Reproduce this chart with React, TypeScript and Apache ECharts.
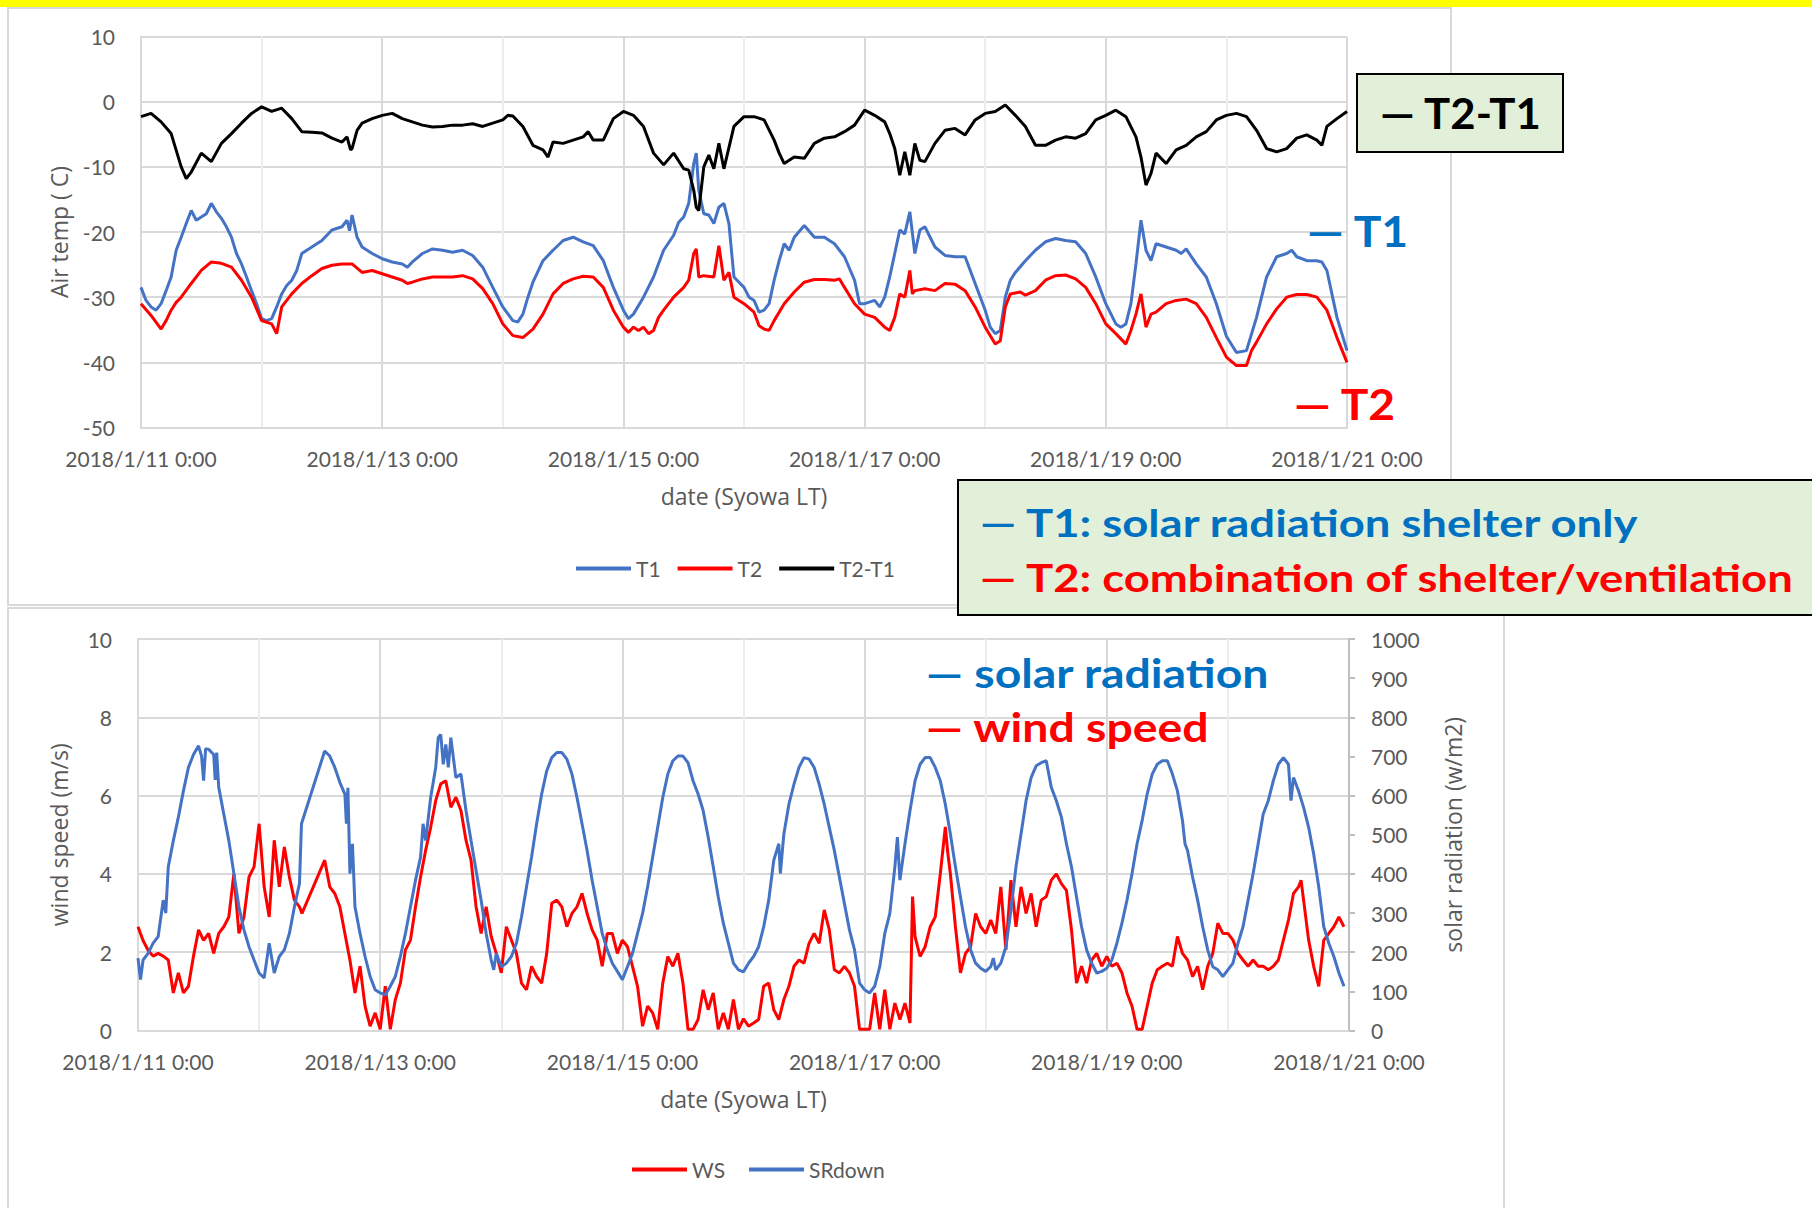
import { useEffect, useRef } from "react";
import * as echarts from "echarts";

// hours since 2018/1/11 0:00 (Syowa LT), value
const t1Data: [number, number][] = [[0,-28.5],[1,-30.5],[2,-31.5],[3,-32],[4,-31],[5,-29],[6,-26.9],[7,-22.8],[8,-20.8],[9,-18.7],[10,-16.7],[11,-18.2],[12,-17.7],[13,-17.2],[14,-15.6],[15,-16.9],[16,-17.9],[17,-19.2],[18,-20.8],[19,-23.3],[20,-24.9],[21,-26.9],[22,-29],[23,-31],[24,-33.3],[25,-33.6],[26,-33.3],[27,-31.5],[28,-29.5],[29,-28.2],[30,-27.4],[31,-25.9],[32,-23.3],[34,-22.3],[36,-21.3],[38,-19.7],[40,-19.2],[41,-18.2],[41.5,-19.8],[42,-17.4],[43,-20.8],[44,-22.3],[46,-23.3],[48,-24.1],[50,-24.6],[52,-24.9],[53,-25.4],[54,-24.6],[56,-23.3],[58,-22.6],[60,-22.8],[62,-23.1],[64,-22.8],[66,-23.6],[68,-25.4],[70,-28.5],[72,-31.5],[74,-33.6],[75,-33.8],[76,-32.6],[77,-30],[78,-27.7],[80,-24.4],[82,-22.8],[84,-21.3],[86,-20.8],[88,-21.5],[90,-22.1],[92,-24.4],[94,-28.5],[96,-32],[97,-33.3],[98,-32.6],[100,-30],[102,-26.9],[104,-22.8],[106,-20.5],[107,-18.5],[108,-17.7],[109,-15.6],[110,-9.5],[110.5,-7.9],[111,-13.6],[112,-17.2],[113,-17.4],[114,-18.7],[115,-16.2],[116,-15.6],[117,-18.7],[118,-26.9],[119,-27.7],[120,-28.5],[121,-30],[122,-30.5],[123,-32.3],[124,-32],[125,-31],[126,-27.4],[127,-24.4],[128,-21.8],[129,-22.8],[130,-20.8],[132,-19],[134,-20.8],[136,-20.8],[138,-21.8],[140,-23.8],[142,-27.4],[143,-31],[144,-31],[146,-30.5],[147,-31.5],[148,-30],[149,-26.9],[150,-23.3],[151,-19.7],[152,-20.3],[153,-16.9],[154,-23.3],[155,-19.7],[156,-19.2],[158,-22.3],[160,-23.6],[162,-23.8],[164,-23.8],[166,-27.9],[168,-32],[169,-34.6],[170,-35.6],[171,-35.1],[172,-30],[173,-27.4],[174,-26.2],[176,-24.4],[178,-22.8],[180,-21.5],[182,-21],[184,-21.3],[186,-21.5],[188,-23.3],[190,-26.9],[192,-31],[194,-34.1],[195,-34.6],[196,-34.1],[197,-31],[198,-24.9],[199,-18.2],[200,-22.8],[201,-24.4],[202,-21.8],[204,-22.3],[206,-22.8],[207,-23.3],[208,-22.6],[210,-24.9],[212,-26.9],[214,-31],[216,-36],[218,-38.5],[220,-38.2],[222,-33.1],[224,-26.9],[226,-23.8],[228,-23.3],[229,-22.8],[230,-23.8],[232,-24.4],[234,-24.4],[235,-24.6],[236,-25.9],[238,-33.1],[240,-38.2]];

const t2Data: [number, number][] = [[0,-31],[2,-32.8],[4,-34.9],[5,-33.6],[6,-32],[7,-30.8],[8,-30],[10,-27.9],[12,-25.9],[14,-24.6],[16,-24.8],[18,-25.4],[20,-27.4],[22,-30],[24,-33.6],[26,-34.1],[27,-35.6],[28,-31.5],[30,-29.5],[32,-27.9],[34,-26.7],[36,-25.6],[38,-25.1],[40,-24.9],[42,-24.9],[44,-26.2],[46,-25.9],[48,-26.4],[50,-26.9],[52,-27.4],[53,-27.9],[54,-27.7],[56,-27.2],[58,-26.9],[60,-26.9],[62,-26.9],[64,-26.7],[66,-27.2],[68,-28.7],[70,-31],[72,-34.1],[74,-35.9],[76,-36.2],[78,-34.9],[80,-32.6],[82,-29.5],[84,-27.9],[86,-27.2],[88,-26.8],[90,-26.9],[92,-28.5],[94,-32],[96,-34.6],[97,-35.4],[98,-34.6],[99,-35.1],[100,-34.6],[101,-35.6],[102,-35.1],[103,-33.1],[104,-32],[106,-30],[108,-28.5],[109,-27.4],[110,-23.3],[110.5,-22.6],[111,-26.9],[112,-26.7],[114,-26.9],[115,-22.1],[116,-27.4],[117,-26.2],[118,-30],[120,-31],[122,-32.3],[123,-34.4],[124,-34.9],[125,-35.1],[126,-33.6],[128,-31],[130,-29.2],[132,-27.7],[134,-27.3],[136,-27.3],[138,-27.4],[139,-27.2],[140,-28.5],[142,-31],[144,-32.6],[146,-33.1],[148,-34.6],[149,-35.1],[150,-33.1],[151,-29.5],[152,-30],[153,-25.9],[153.5,-29.5],[154,-29],[156,-28.7],[158,-29],[160,-27.9],[162,-28],[164,-29],[166,-31.5],[168,-34.6],[170,-37.2],[171,-36.7],[172,-31.5],[173,-29.5],[175,-29.2],[176,-29.7],[178,-29],[180,-27.4],[182,-26.7],[184,-26.6],[186,-27.2],[188,-28.5],[190,-31],[192,-34.1],[194,-35.6],[196,-37.2],[197,-35.1],[198,-32.6],[199,-29.5],[200,-34.6],[201,-32.6],[202,-32.3],[204,-31],[206,-30.5],[208,-30.3],[210,-31],[212,-33.1],[214,-36.2],[216,-39.2],[218,-40.5],[220,-40.5],[221,-38.2],[222,-36.9],[224,-34.1],[226,-31.8],[228,-30],[230,-29.6],[232,-29.6],[234,-30],[236,-32],[238,-36.2],[240,-40]];

const diffData: [number, number][] = [[0,-2.3],[2,-1.8],[4,-3.1],[6,-4.9],[8,-10],[9,-11.8],[10,-10.8],[12,-7.9],[14,-9.2],[16,-6.4],[18,-4.9],[20,-3.3],[22,-1.8],[24,-0.8],[26,-1.5],[28,-1],[30,-2.6],[32,-4.6],[34,-4.7],[36,-4.8],[38,-5.6],[40,-6.2],[41,-5.4],[41.7,-7.4],[42,-7.2],[43,-4.4],[44,-3.3],[46,-2.6],[48,-2.1],[50,-1.8],[52,-2.6],[54,-3.1],[56,-3.6],[58,-3.9],[60,-3.8],[62,-3.6],[64,-3.6],[66,-3.4],[68,-3.8],[70,-3.3],[72,-2.8],[73,-2.1],[74,-2.2],[76,-3.8],[78,-6.7],[80,-7.4],[81,-8.5],[82,-6.2],[84,-6.4],[86,-5.9],[88,-5.4],[89,-4.6],[90,-5.9],[92,-5.9],[94,-2.6],[96,-1.5],[98,-2.1],[100,-3.8],[102,-7.9],[104,-9.7],[106,-7.9],[108,-10.3],[109,-10.5],[110,-13.6],[110.5,-16.2],[111,-16.7],[112,-10],[113,-8.2],[114,-10.3],[115,-6.4],[116,-10.3],[118,-3.8],[120,-2.3],[122,-2.3],[124,-2.8],[126,-5.9],[127,-7.9],[128,-9.5],[130,-8.5],[132,-8.7],[134,-6.4],[136,-5.6],[138,-5.4],[140,-4.6],[142,-3.6],[144,-1.3],[146,-2.1],[148,-3.1],[149,-4.9],[150,-7.2],[151,-11.3],[152,-7.7],[153,-11.3],[154,-6.4],[155,-9],[156,-9.2],[158,-6.4],[160,-4.4],[162,-4.1],[164,-5.1],[166,-2.8],[168,-1.8],[170,-1.5],[172,-0.5],[174,-2.1],[176,-3.8],[178,-6.7],[180,-6.7],[182,-5.9],[184,-5.4],[186,-5.6],[188,-4.9],[190,-2.8],[192,-2.1],[194,-1.3],[196,-2.3],[198,-5.4],[199,-8.5],[200,-12.8],[201,-11],[202,-7.9],[204,-9.5],[206,-7.4],[208,-6.7],[210,-5.4],[212,-4.6],[214,-2.8],[216,-2.1],[218,-1.8],[220,-2.3],[222,-4.4],[224,-7.2],[226,-7.7],[228,-7.2],[230,-5.6],[232,-5.1],[234,-5.9],[235,-6.7],[236,-3.8],[238,-2.6],[240,-1.5]];

const wsData: [number, number][] = [[0,2.65],[1,2.3],[2,2.05],[3,1.9],[4,1.97],[5,1.9],[6,1.8],[7,0.96],[8,1.47],[9,0.96],[10,1.13],[11,1.9],[12,2.57],[13,2.3],[14,2.48],[15,1.97],[16,2.48],[17,2.65],[18,2.9],[19,4.0],[20,2.48],[21,2.9],[22,3.92],[23,4.18],[24,5.28],[25,3.67],[26,2.9],[27,4.86],[28,3.67],[29,4.69],[30,3.92],[31,3.33],[32,3.16],[32.5,2.99],[37,4.35],[38,3.67],[39,3.5],[40,3.16],[41,2.48],[42,1.8],[43,0.96],[44,1.64],[45,0.62],[46,0.11],[47,0.45],[48,0.03],[49,1.13],[50,0.03],[51,0.79],[52,1.21],[53,2.06],[54,2.31],[55,3.16],[56,3.92],[57,4.6],[58,5.19],[59,5.87],[60,6.3],[61,6.38],[62,5.7],[63,5.96],[64,5.62],[65,4.86],[66,4.35],[67,3.16],[68,2.48],[69,3.16],[70,2.4],[71,1.97],[72,1.47],[73,2.65],[74,2.31],[75,1.97],[76,1.21],[77,1.04],[78,1.64],[79,1.38],[80,1.21],[81,1.97],[82,3.25],[83,3.33],[84,3.16],[85,2.65],[86,2.99],[87,3.16],[88,3.5],[89,2.99],[90,2.57],[91,2.31],[92,1.64],[93,2.48],[94,2.48],[95,1.97],[96,2.31],[97,2.14],[98,1.64],[99,1.13],[100,0.11],[101,0.62],[102,0.45],[103,0.03],[104,1.21],[105,1.89],[106,1.64],[107,1.97],[108,1.21],[109,0.03],[110,0.03],[111,0.28],[112,1.04],[113,0.53],[114,0.96],[115,0.03],[116,0.45],[117,0.03],[118,0.79],[119,0.03],[120,0.3],[121,0.11],[122,0.19],[123,0.28],[124,1.13],[125,1.21],[126,0.53],[127,0.28],[128,0.79],[129,1.13],[130,1.64],[131,1.8],[132,1.72],[133,2.23],[134,2.48],[135,2.23],[136,3.08],[137,2.57],[138,1.55],[139,1.47],[140,1.64],[141,1.47],[142,1.13],[143,0.03],[144,0.03],[145,0.03],[146,0.96],[147,0.03],[148,1.04],[149,0.03],[150,0.7],[151,0.28],[152,0.7],[153,0.19],[153.5,3.42],[154,2.4],[155,1.89],[156,2.14],[157,2.65],[158,2.9],[159,4.0],[160,5.2],[160.5,4.52],[161,4.0],[162,2.65],[163,1.47],[164,1.97],[165,2.14],[166,2.99],[167,2.65],[168,2.48],[169,2.82],[170,2.48],[171,3.67],[172,2.06],[173,3.84],[174,2.65],[175,3.67],[176,2.99],[177,3.5],[178,2.65],[179,3.33],[180,3.42],[181,3.84],[182,4.0],[183,3.75],[184,3.58],[185,2.57],[186,1.21],[187,1.64],[188,1.21],[189,1.8],[190,1.97],[191,1.64],[192,1.89],[193,1.64],[194,1.72],[195,1.47],[196,0.96],[197,0.62],[198,0.03],[199,0.03],[200,0.62],[201,1.21],[202,1.55],[203,1.64],[204,1.72],[205,1.64],[206,2.4],[207,1.97],[208,1.8],[209,1.38],[210,1.64],[211,1.04],[212,1.64],[213,1.97],[214,2.74],[215,2.48],[216,2.48],[217,2.31],[218,1.97],[219,1.8],[220,1.64],[221,1.8],[222,1.64],[223,1.64],[224,1.55],[225,1.64],[226,1.8],[227,2.31],[228,2.82],[229,3.5],[230,3.67],[230.5,3.84],[231,3.33],[232,2.31],[233,1.64],[234,1.13],[235,2.31],[236,2.48],[237,2.65],[238,2.9],[239,2.65]];

const srData: [number, number][] = [[0,185],[0.5,130],[1,180],[2,197],[3,223],[4,240],[5,333],[5.5,300],[6,418],[7,485],[8,545],[9,612],[10,672],[11,705],[12,727],[12.6,700],[13,638],[13.4,720],[14,718],[15,705],[15.3,640],[15.6,710],[16,621],[17,553],[18,485],[19,401],[20,316],[21,257],[22,214],[23,180],[24,147],[25,134],[26,223],[27,147],[28,189],[29,206],[30,248],[31,316],[32,375],[32.4,528],[37,714],[38,701],[39,672],[40,634],[41,604],[41.3,528],[41.6,620],[42,401],[42.5,477],[43,316],[44,248],[45,189],[46,138],[47,104],[48,96],[49,91],[50,113],[51,138],[52,189],[53,248],[54,316],[55,384],[56,443],[56.5,528],[57,485],[58,595],[59,672],[59.5,748],[60,756],[60.5,680],[61,731],[61.5,672],[62,748],[63,646],[64,655],[65,562],[66,485],[67,409],[68,333],[69,248],[70,180],[70.5,155],[71,197],[72,163],[73,172],[74,189],[75,223],[76,290],[77,367],[78,443],[79,528],[80,604],[81,663],[82,697],[83,710],[84,710],[85,693],[86,655],[87,595],[88,528],[89,460],[90,384],[91,316],[92,248],[93,206],[94,172],[95,151],[96,130],[97,163],[98,197],[99,248],[100,299],[101,367],[102,443],[103,519],[104,595],[105,655],[106,689],[107,701],[108,701],[109,684],[110,638],[111,604],[112,562],[113,494],[114,418],[115,341],[116,274],[117,223],[118,172],[119,155],[120,150],[121,172],[122,189],[123,214],[124,265],[125,333],[126,435],[127,477],[127.3,401],[128,502],[129,578],[130,629],[131,672],[132,697],[133,693],[134,672],[135,629],[136,578],[137,519],[138,460],[139,392],[140,324],[141,257],[142,206],[143,121],[144,104],[145,96],[146,113],[147,163],[148,248],[149,299],[150,418],[150.5,494],[151,384],[152,477],[153,562],[154,638],[155,680],[156,697],[157,697],[158,672],[159,638],[160,578],[161,502],[162,418],[163,341],[164,265],[165,206],[166,172],[167,159],[168,151],[169,163],[169.5,185],[170,155],[171,172],[172,214],[173,307],[174,418],[175,502],[176,587],[177,646],[178,676],[179,684],[180,689],[181,621],[182,587],[183,545],[184,477],[185,418],[186,341],[187,265],[188,206],[189,172],[190,147],[191,151],[192,159],[193,180],[194,223],[195,274],[196,333],[197,401],[198,477],[199,536],[200,604],[201,655],[202,680],[203,689],[204,689],[205,655],[206,612],[207,536],[207.5,477],[208,460],[209,392],[210,333],[211,265],[212,206],[213,163],[214,155],[215,138],[216,155],[217,172],[218,223],[219,265],[220,333],[221,401],[222,477],[223,553],[224,587],[225,638],[226,680],[227,697],[228,680],[228.5,587],[229,646],[230,612],[231,570],[232,519],[233,451],[234,367],[235,265],[236,223],[237,189],[238,147],[239,113]];

const topLegend = ["T1", "T2", "T2-T1"];
const bottomLegend = ["WS", "SRdown"];

const FONT = "Lato, 'Open Sans', sans-serif";
const NAME_FONT = "'Open Sans', Lato, sans-serif";
const GRAY = "#595959";
const GRID_C = "#D9D9D9";
const MINOR_C = "#EDEDED";

const dateLabel = (v: number) => (v % 48 === 0 ? `2018/1/${11 + v / 24} 0:00` : "");

function timeAxis(gridIndex: number) {
  return {
    type: "value",
    gridIndex,
    min: 0,
    max: 240,
    interval: 48,
    name: "date (Syowa LT)",
    nameLocation: "middle",
    nameGap: 57,
    nameTextStyle: { color: GRAY, fontSize: 23, fontFamily: NAME_FONT },
    axisLine: { show: true, onZero: false, lineStyle: { color: GRID_C, width: 2 } },
    axisTick: { show: false },
    axisLabel: { color: GRAY, fontSize: 21, fontFamily: FONT, margin: 20, formatter: dateLabel },
    splitLine: { show: true, lineStyle: { color: GRID_C, width: 2 } },
    minorTick: { show: false, splitNumber: 2 },
    minorSplitLine: { show: true, lineStyle: { color: MINOR_C, width: 2 } },
  };
}

function lineSeries(name: string, data: [number, number][], color: string, xi: number, yi: number) {
  return {
    name,
    type: "line",
    xAxisIndex: xi,
    yAxisIndex: yi,
    data,
    showSymbol: false,
    symbol: "none",
    lineStyle: { color, width: 3 },
    itemStyle: { color },
  };
}

const annoText = (text: string, x: number, y: number, size: number, color: string, sx: number) => ({
  type: "text",
  x,
  y,
  scaleX: sx,
  z: 20,
  style: { text, fontSize: size, fontWeight: "bold", fontFamily: FONT, fill: color, align: "left", verticalAlign: "middle" },
});

export default function App() {
  const ref = useRef<HTMLDivElement>(null);
  useEffect(() => {
    document.body.style.margin = "0";
    const chart = echarts.init(ref.current!, null, { renderer: "svg" });
    chart.setOption({
      animation: false,
      backgroundColor: "#ffffff",
      textStyle: { fontFamily: FONT },
      grid: [
        { left: 141, top: 36.5, width: 1206, height: 391 },
        { left: 138, top: 639, width: 1211, height: 391.5 },
      ],
      legend: [
        {
          data: topLegend, left: 571, top: 553, icon: "rect", itemWidth: 55, itemHeight: 4, itemGap: 17,
          textStyle: { color: GRAY, fontSize: 21, fontFamily: FONT },
        },
        {
          data: bottomLegend, left: 627, top: 1154, icon: "rect", itemWidth: 55, itemHeight: 4, itemGap: 24,
          textStyle: { color: GRAY, fontSize: 21, fontFamily: FONT },
        },
      ],
      xAxis: [timeAxis(0), timeAxis(1)],
      yAxis: [
        {
          type: "value", gridIndex: 0, min: -50, max: 10, interval: 10,
          name: "Air temp ( C)", nameLocation: "middle", nameGap: 71,
          nameTextStyle: { color: GRAY, fontSize: 23, fontFamily: NAME_FONT },
          axisLine: { show: true, lineStyle: { color: GRID_C, width: 2 } },
          axisTick: { show: false },
          axisLabel: { color: GRAY, fontSize: 21, fontFamily: FONT, margin: 26 },
          splitLine: { show: true, lineStyle: { color: GRID_C, width: 2 } },
        },
        {
          type: "value", gridIndex: 1, min: 0, max: 10, interval: 2,
          name: "wind speed (m/s)", nameLocation: "middle", nameGap: 68,
          nameTextStyle: { color: GRAY, fontSize: 23, fontFamily: NAME_FONT },
          axisLine: { show: true, lineStyle: { color: GRID_C, width: 2 } },
          axisTick: { show: false },
          axisLabel: { color: GRAY, fontSize: 21, fontFamily: FONT, margin: 26 },
          splitLine: { show: true, lineStyle: { color: GRID_C, width: 2 } },
        },
        {
          type: "value", gridIndex: 1, position: "right", min: 0, max: 1000, interval: 100,
          name: "solar radiation (w/m2)", nameLocation: "middle", nameGap: 92,
          nameTextStyle: { color: GRAY, fontSize: 23, fontFamily: NAME_FONT },
          axisLine: { show: true, lineStyle: { color: "#BFBFBF", width: 2 } },
          axisTick: { show: true, length: 6, lineStyle: { color: "#BFBFBF", width: 2 } },
          axisLabel: { color: GRAY, fontSize: 21, fontFamily: FONT, margin: 22, formatter: (v: number) => String(v) },
          splitLine: { show: false },
        },
      ],
      series: [
        lineSeries("T1", t1Data, "#4472C4", 0, 0),
        lineSeries("T2", t2Data, "#FF0000", 0, 0),
        lineSeries("T2-T1", diffData, "#000000", 0, 0),
        lineSeries("WS", wsData, "#FF0000", 1, 1),
        lineSeries("SRdown", srData, "#4472C4", 1, 2),
      ],
      graphic: [
        { type: "rect", z: 0, shape: { x: 0, y: 0, width: 1812, height: 7 }, style: { fill: "#FFFF00" } },
        { type: "rect", z: 0, shape: { x: 8, y: 8, width: 1443, height: 597 }, style: { fill: "none", stroke: GRID_C, lineWidth: 2 } },
        { type: "rect", z: 0, shape: { x: 8, y: 608, width: 1496, height: 620 }, style: { fill: "none", stroke: GRID_C, lineWidth: 2 } },
        { type: "rect", z: 19, shape: { x: 1357, y: 74, width: 206, height: 78 }, style: { fill: "#E2F0D9", stroke: "#000000", lineWidth: 2 } },
        annoText("— T2-T1", 1380, 113, 42, "#000000", 1.04),
        annoText("— T1", 1307, 230, 42, "#0070C0", 1.1),
        annoText("— T2", 1294, 403, 42, "#FF0000", 1.1),
        { type: "rect", z: 19, shape: { x: 958, y: 480, width: 870, height: 135 }, style: { fill: "#E2F0D9", stroke: "#000000", lineWidth: 2 } },
        annoText("— T1: solar radiation shelter only", 980, 522, 39, "#0070C0", 1.165),
        annoText("— T2: combination of shelter/ventilation", 980, 577, 39, "#FF0000", 1.165),
        annoText("— solar radiation", 926, 672, 40, "#0070C0", 1.16),
        annoText("— wind speed", 926, 726, 40, "#FF0000", 1.16),
      ],
    });
    return () => chart.dispose();
  }, []);
  return <div ref={ref} style={{ width: 1812, height: 1208, background: "#ffffff" }} />;
}
